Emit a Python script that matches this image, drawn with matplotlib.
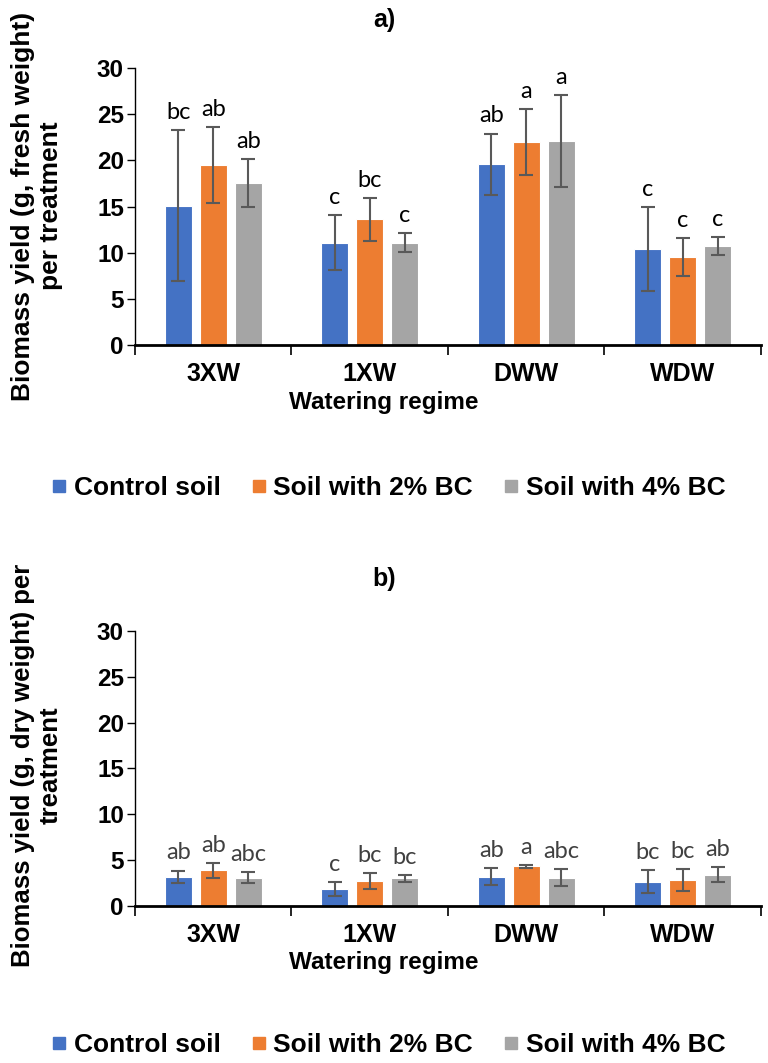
import matplotlib.pyplot as plt
from matplotlib.lines import Line2D
import numpy as np

regimes = ['3XW', '1XW', 'DWW', 'WDW']
treatments = ['Control soil', 'Soil with 2% BC', 'Soil with 4% BC']
colors = ['#4472C4', '#ED7D31', '#A5A5A5']

# fresh weight (a)
fresh_mean = [[15.1, 11.1, 19.6, 10.4],
              [19.5, 13.6, 22.0, 9.5],
              [17.5, 11.1, 22.1, 10.7]]
fresh_err = [[8.2, 3.0, 3.3, 4.5],
             [4.15, 2.3, 3.55, 2.05],
             [2.6, 1.0, 5.0, 0.95]]
fresh_letters = [['bc', 'c', 'ab', 'c'],
                 ['ab', 'bc', 'a', 'c'],
                 ['ab', 'c', 'a', 'c']]

# dry weight (b)
dry_mean = [[3.17, 1.84, 3.2, 2.63],
            [3.9, 2.74, 4.32, 2.84],
            [3.1, 3.0, 3.1, 3.4]]
dry_err = [[0.7, 0.75, 0.92, 1.25],
           [0.8, 0.9, 0.15, 1.15],
           [0.63, 0.37, 0.92, 0.8]]
dry_letters = [['ab', 'c', 'ab', 'bc'],
               ['ab', 'bc', 'a', 'bc'],
               ['abc', 'bc', 'abc', 'ab']]

plt.rcParams['font.family'] = ['Liberation Sans', 'DejaVu Sans']

fig = plt.figure(figsize=(7.68, 10.63), dpi=100)


def panel(ax, means, errs, letters, letter_color):
    x = np.arange(len(regimes)) + 0.5
    width = 0.173
    pitch = 0.224
    for i in range(3):
        xi = x + (i - 1) * pitch
        ax.bar(xi, means[i], width, color=colors[i], edgecolor='white',
               linewidth=0.8, zorder=2)
        ax.errorbar(xi, means[i], yerr=errs[i], fmt='none', ecolor='#595959',
                    elinewidth=1.5, capsize=5, capthick=1.5, zorder=3)
        for j in range(len(regimes)):
            ax.annotate(letters[i][j], (xi[j], means[i][j] + errs[i][j]),
                        xytext=(0, 8), textcoords='offset points',
                        ha='center', va='baseline', fontsize=17,
                        color=letter_color, family=['Lato', 'DejaVu Sans'])
    ax.set_xlim(0, 4)
    ax.set_ylim(0, 30)
    ax.set_yticks(range(0, 31, 5))
    ax.set_xticks(range(0, 5))
    ax.set_xticklabels([])
    ax.set_xticks(x, regimes, minor=True)
    ax.tick_params(axis='x', which='major', length=7, width=1.2, direction='out')
    ax.tick_params(axis='x', which='minor', length=0, pad=12, labelsize=18)
    ax.tick_params(axis='y', length=6, width=1, labelsize=17.5, pad=2)
    for lab in ax.get_xticklabels(minor=True) + ax.get_yticklabels():
        lab.set_fontweight('bold')
    ax.spines['top'].set_visible(False)
    ax.spines['right'].set_visible(False)
    ax.spines['bottom'].set_linewidth(2)
    ax.spines['left'].set_linewidth(1)


ax1 = fig.add_axes([0.1758, 0.6754, 0.815, 0.2606])
panel(ax1, fresh_mean, fresh_err, fresh_letters, 'black')
ax2 = fig.add_axes([0.1758, 0.1477, 0.815, 0.2587])
panel(ax2, dry_mean, dry_err, dry_letters, '#404040')

fig.text(0.5, 0.981, 'a)', ha='center', va='center', fontsize=18, fontweight='bold')
fig.text(0.5, 0.455, 'b)', ha='center', va='center', fontsize=18, fontweight='bold')

fig.text(0.5, 1 - 402 / 1063, 'Watering regime', ha='center', va='center',
         fontsize=17.5, fontweight='bold')
fig.text(0.5, 1 - 963 / 1063, 'Watering regime', ha='center', va='center',
         fontsize=17.5, fontweight='bold')

fig.text(0.048, 1 - 206 / 1063, 'Biomass yield (g, fresh weight)\nper treatment',
         rotation=90, ha='center', va='center', fontsize=19, fontweight='bold',
         multialignment='center', linespacing=1.2)
fig.text(0.048, 1 - 765 / 1063, 'Biomass yield (g, dry weight) per\ntreatment',
         rotation=90, ha='center', va='center', fontsize=18.5, fontweight='bold',
         multialignment='center', linespacing=1.2)

handles = [Line2D([], [], marker='s', linestyle='none', markersize=9,
                  markerfacecolor=c, markeredgecolor=c) for c in colors]
for yc in [1 - 488 / 1063, 1 - 1045 / 1063]:
    fig.legend(handles, treatments, loc='center', bbox_to_anchor=(0.5065, yc),
               ncol=3, frameon=False, handlelength=0.5, handletextpad=0.3,
               columnspacing=1.2, borderpad=0.2,
               prop={'weight': 'bold', 'size': 19})

fig.savefig('out.png', dpi=100)
